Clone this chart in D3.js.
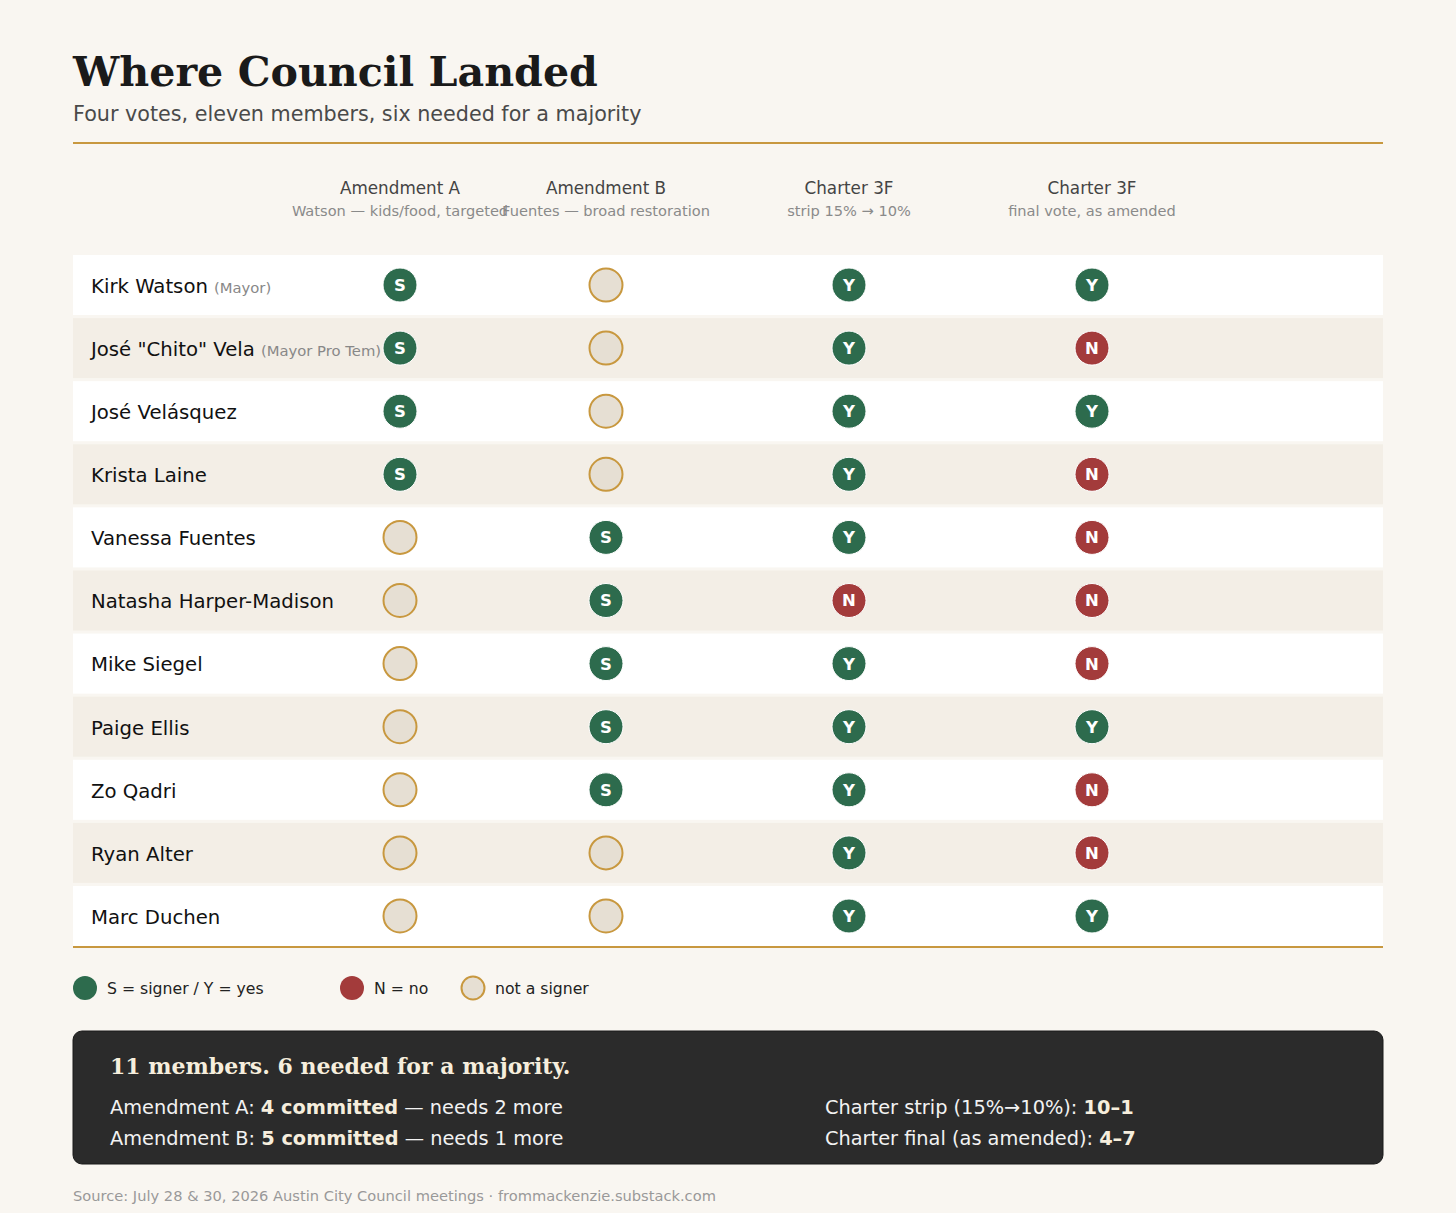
<!DOCTYPE html>
<html>
<head>
<meta charset="utf-8">
<script src="https://cdn.jsdelivr.net/npm/d3@7"></script>
<style>
  body { margin: 0; background: #f9f6f1; }
  svg { display: block; }
</style>
</head>
<body>
<div id="chart"></div>
<script>
// council members, in table order
var members = ["Kirk Watson", "José \"Chito\" Vela", "José Velásquez", "Krista Laine",
  "Vanessa Fuentes", "Natasha Harper-Madison", "Mike Siegel", "Paige Ellis",
  "Zo Qadri", "Ryan Alter", "Marc Duchen"];
var roles = ["(Mayor)", "(Mayor Pro Tem)", "", "", "", "", "", "", "", "", ""];

// the four votes
var votes = ["amendA", "amendB", "strip", "final"];
var voteTitles = ["Amendment A", "Amendment B", "Charter 3F", "Charter 3F"];
var voteSubs = ["Watson — kids/food, targeted", "Fuentes — broad restoration",
  "strip 15% → 10%", "final vote, as amended"];

// S = signer, "" = not a signer, Y = yes, N = no
var amendA = ["S", "S", "S", "S", "", "", "", "", "", "", ""];
var amendB = ["", "", "", "", "S", "S", "S", "S", "S", "", ""];
var strip  = ["Y", "Y", "Y", "Y", "Y", "N", "Y", "Y", "Y", "Y", "Y"];
var final  = ["Y", "N", "Y", "N", "N", "N", "N", "Y", "N", "N", "Y"];
var voteData = { amendA: amendA, amendB: amendB, strip: strip, final: final };

var legendLabels = ["S = signer / Y = yes", "N = no", "not a signer"];
var legendKinds = ["S", "N", ""];

var svgWidth = 1456;
var svgHeight = 1213;
var left = 73, right = 1383;

var green = "#2d6b4d", red = "#a33b3b", empty = "#e6dfd3", gold = "#c8983f";
var sans = "'DejaVu Sans', sans-serif";
var serif = "'DejaVu Serif', serif";

var svg = d3.select("#chart").append("svg")
    .attr("width", svgWidth)
    .attr("height", svgHeight);

svg.append("rect").attr("width", svgWidth).attr("height", svgHeight).attr("fill", "#f9f6f1");

// title block
svg.append("text")
    .attr("x", left).attr("y", 86)
    .attr("font-family", serif).attr("font-weight", "bold")
    .attr("font-size", 41.2).attr("fill", "#1a1a1a")
    .text("Where Council Landed");

svg.append("text")
    .attr("x", left).attr("y", 121)
    .attr("font-family", sans).attr("font-size", 20.7).attr("fill", "#4a4a4a")
    .text("Four votes, eleven members, six needed for a majority");

svg.append("line")
    .attr("x1", left).attr("x2", right).attr("y1", 143).attr("y2", 143)
    .attr("stroke", gold).attr("stroke-width", 2);

// scales
var x = d3.scaleOrdinal().domain(votes).range([400, 606, 849, 1092]);
var y = d3.scaleBand().domain(members).range([255, 946]).paddingInner(0.049);

// column headers
var head = svg.append("g").selectAll("g")
    .data(votes)
    .enter().append("g")
    .attr("transform", d => `translate(${x(d)},0)`);

head.append("text")
    .attr("y", 194).attr("text-anchor", "middle")
    .attr("font-family", sans).attr("font-size", 16.8).attr("fill", "#444")
    .text((d, i) => voteTitles[i]);

head.append("text")
    .attr("y", 216).attr("text-anchor", "middle")
    .attr("font-family", sans).attr("font-size", 14.6).attr("fill", "#8a8a8a")
    .text((d, i) => voteSubs[i]);

// rows
var rows = svg.append("g").selectAll("g")
    .data(members)
    .enter().append("g")
    .attr("transform", d => `translate(0,${y(d)})`);

rows.append("rect")
    .attr("x", left).attr("width", right - left)
    .attr("height", y.bandwidth())
    .attr("fill", (d, i) => i % 2 ? "#f3eee6" : "#ffffff");

var names = rows.append("text")
    .attr("x", 91).attr("y", y.bandwidth() / 2).attr("dy", "0.4em")
    .attr("font-family", sans).attr("font-size", 19.7).attr("fill", "#111");
names.append("tspan").text(d => d);
names.append("tspan")
    .attr("font-size", 14.8).attr("fill", "#888").attr("dx", 6)
    .text((d, i) => roles[i]);

function fillFor(v) { return v === "" ? empty : (v === "N" ? red : green); }

// vote cells
votes.forEach(function(key) {
    var cells = rows.append("g")
        .attr("transform", `translate(${x(key)},${y.bandwidth() / 2})`);

    cells.append("circle")
        .attr("r", (d, i) => voteData[key][i] === "" ? 16.5 : 17)
        .attr("fill", (d, i) => fillFor(voteData[key][i]))
        .attr("stroke", (d, i) => voteData[key][i] === "" ? gold : "#ffffff")
        .attr("stroke-width", (d, i) => voteData[key][i] === "" ? 2 : 1);

    cells.append("text")
        .attr("text-anchor", "middle").attr("dy", "0.36em")
        .attr("font-family", sans).attr("font-weight", "bold")
        .attr("font-size", 16.5).attr("fill", "#fff")
        .text((d, i) => voteData[key][i]);
});

svg.append("line")
    .attr("x1", left).attr("x2", right).attr("y1", 947).attr("y2", 947)
    .attr("stroke", gold).attr("stroke-width", 2);

// legend
var legendX = [85, 352, 473];
var legend = svg.append("g").selectAll("g")
    .data(legendLabels)
    .enter().append("g")
    .attr("transform", (d, i) => `translate(${legendX[i]},988)`);

legend.append("circle")
    .attr("r", (d, i) => legendKinds[i] === "" ? 11.5 : 12)
    .attr("fill", (d, i) => fillFor(legendKinds[i]))
    .attr("stroke", (d, i) => legendKinds[i] === "" ? gold : "none")
    .attr("stroke-width", 2);

legend.append("text")
    .attr("x", 22).attr("dy", "0.36em")
    .attr("font-family", sans).attr("font-size", 15.7).attr("fill", "#222")
    .text(d => d);

// summary box
svg.append("rect")
    .attr("x", left).attr("y", 1031)
    .attr("width", right - left).attr("height", 133)
    .attr("rx", 9)
    .attr("fill", "#2b2b2b").attr("stroke", "#1a1a1a");

svg.append("text")
    .attr("x", 110).attr("y", 1074)
    .attr("font-family", serif).attr("font-weight", "bold")
    .attr("font-size", 22).attr("fill", "#f6eedd")
    .text("11 members. 6 needed for a majority.");

var summary = [
    { x: 110, y: 1114, pre: "Amendment A: ", bold: "4 committed", post: " — needs 2 more" },
    { x: 110, y: 1145, pre: "Amendment B: ", bold: "5 committed", post: " — needs 1 more" },
    { x: 825, y: 1114, pre: "Charter strip (15%→10%): ", bold: "10–1", post: "" },
    { x: 825, y: 1145, pre: "Charter final (as amended): ", bold: "4–7", post: "" }
];

var sumText = svg.append("g").selectAll("text")
    .data(summary)
    .enter().append("text")
    .attr("x", d => d.x).attr("y", d => d.y)
    .attr("font-family", sans).attr("font-size", 19.35).attr("fill", "#f2f2f2");
sumText.append("tspan").text(d => d.pre);
sumText.append("tspan").attr("font-weight", "bold").attr("fill", "#f6eedd").text(d => d.bold);
sumText.append("tspan").text(d => d.post);

// source
svg.append("text")
    .attr("x", left).attr("y", 1201)
    .attr("font-family", sans).attr("font-size", 14.65).attr("fill", "#999")
    .text("Source: July 28 & 30, 2026 Austin City Council meetings · frommackenzie.substack.com");
</script>
</body>
</html>
